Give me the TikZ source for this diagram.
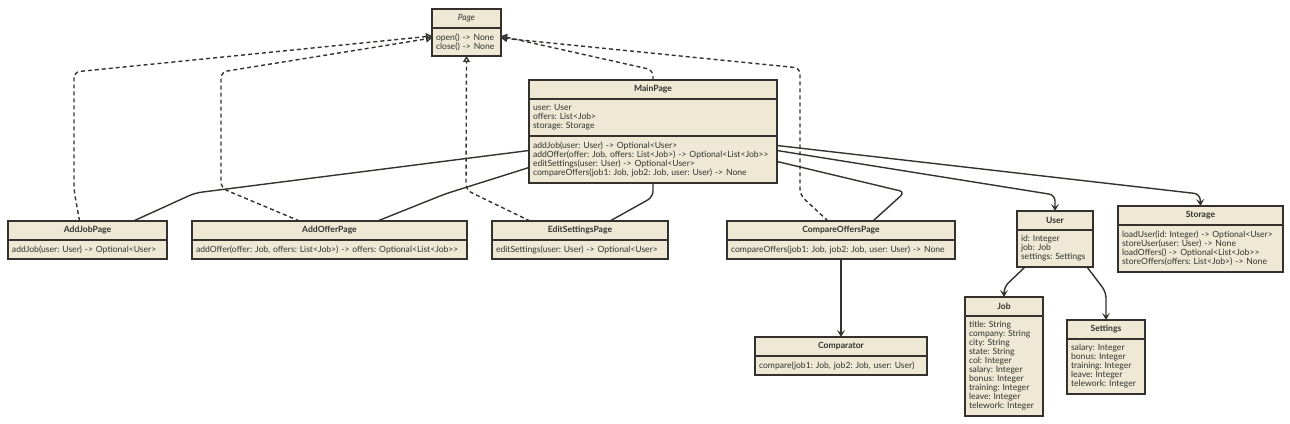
\documentclass[tikz,border=0pt]{standalone}
\usepackage{fontspec}
\setmainfont{Lato}[Ligatures=TeXOff]
\usetikzlibrary{arrows.meta}
\definecolor{paper}{HTML}{EEE8D5}
\definecolor{ink}{HTML}{33322E}
\frenchspacing
\begin{document}
\begin{tikzpicture}[
    x=1pt, y=-1pt,
    font=\fontsize{8.6}{9}\selectfont,
    head/.style={draw=ink, fill=paper, line width=1.4pt, outer sep=0pt, anchor=north west, minimum height=19pt, inner sep=0pt, text=ink, font=\fontsize{8.6}{9}\selectfont\bfseries},
    comp/.style={draw=ink, fill=paper, line width=1.4pt, outer sep=0pt, anchor=north west, inner xsep=4pt, inner ysep=0pt, align=left, text=ink},
    link/.style={draw=ink, line width=1.4pt, rounded corners=6pt},
    assoc/.style={link, -{Stealth[length=7pt, width=8pt, inset=3pt]}},
    real/.style={link, dash pattern=on 4pt off 3pt, -{Triangle[open, length=6pt, width=7pt, line width=1.3pt]}},
  ]
  \useasboundingbox (0,0) rectangle (1290,423);
  % Page (abstract)
  \node[head, minimum width=69pt, font=\fontsize{8.6}{9}\selectfont\itshape] (page) at (432,9) {Page};
  \node[comp, text width=61pt, minimum height=28pt] (page-ops) at (page.south west) {open() -> None\\close() -> None};
  % MainPage
  \node[head, minimum width=248pt] (main) at (529,80) {MainPage};
  \node[comp, text width=240pt, minimum height=37pt] (main-attr) at (main.south west) {user: User\\offers: List<Job>\\storage: Storage};
  \node[comp, text width=240pt, minimum height=47pt] (main-ops) at (main-attr.south west) {addJob(user: User) -> Optional<User>\\addOffer(offer: Job, offers: List<Job>) -> Optional<List<Job>>\\editSettings(user: User) -> Optional<User>\\compareOffers(job1: Job, job2: Job, user: User) -> None};
  % pages
  \node[head, minimum width=159pt] (addjob) at (8,221) {AddJobPage};
  \node[comp, text width=151pt, minimum height=19pt] (addjob-ops) at (addjob.south west) {addJob(user: User) -> Optional<User>};
  \node[head, minimum width=275pt] (addoffer) at (192,221) {AddOfferPage};
  \node[comp, text width=267pt, minimum height=19pt] (addoffer-ops) at (addoffer.south west) {addOffer(offer: Job, offers: List<Job>) -> offers: Optional<List<Job>>};
  \node[head, minimum width=176pt] (edit) at (492,221) {EditSettingsPage};
  \node[comp, text width=168pt, minimum height=19pt] (edit-ops) at (edit.south west) {editSettings(user: User) -> Optional<User>};
  \node[head, minimum width=228pt] (compare) at (727,221) {CompareOffersPage};
  \node[comp, text width=220pt, minimum height=19pt] (compare-ops) at (compare.south west) {\mbox{compareOffers(job1: Job, job2: Job, user: User) -> None}};
  \node[head, minimum width=172pt] (comparator) at (755,337) {Comparator};
  \node[comp, text width=164pt, minimum height=19pt] (comparator-ops) at (comparator.south west) {\mbox{compare(job1: Job, job2: Job, user: User)}};
  % model
  \node[head, minimum width=76pt] (user) at (1017,211) {User};
  \node[comp, text width=68pt, minimum height=37pt] (user-attr) at (user.south west) {id: Integer\\job: Job\\settings: Settings};
  \node[head, minimum width=165pt] (storage) at (1118,206) {Storage};
  \node[comp, text width=157pt, minimum height=47pt] (storage-ops) at (storage.south west) {loadUser(id: Integer) -> Optional<User>\\storeUser(user: User) -> None\\loadOffers() -> Optional<List<Job>>\\storeOffers(offers: List<Job>) -> None};
  \node[head, minimum width=78pt] (job) at (965,297) {Job};
  \node[comp, text width=70pt, minimum height=100pt] (job-attr) at (job.south west) {title: String\\company: String\\city: String\\state: String\\col: Integer\\salary: Integer\\bonus: Integer\\training: Integer\\leave: Integer\\telework: Integer};
  \node[head, minimum width=78pt] (settings) at (1067,320) {Settings};
  \node[comp, text width=70pt, minimum height=55pt] (settings-attr) at (settings.south west) {salary: Integer\\bonus: Integer\\training: Integer\\leave: Integer\\telework: Integer};
  % realizations of Page
  \draw[real] ([xshift=-8pt]addjob.north) -- (74,190) -- (74,72) -- ([yshift=6pt]page-ops.west);
  \draw[real] ([xshift=-30pt]addoffer.north) -- (221,188) -- (221,72) -- ([yshift=4pt]page-ops.west);
  \draw[real] ([xshift=-50pt]edit.north) -- (466,190) -- (page-ops.south);
  \draw[real] (main.north) -- (653,70) -- ([yshift=6pt]page-ops.east);
  \draw[real] ([xshift=-13pt]compare.north) -- (800,195) -- (800,68) -- ([yshift=4pt]page-ops.east);
  % associations
  \draw[link] ([yshift=9pt]main-ops.west) -- (195,193) -- ([xshift=46pt]addjob.north);
  \draw[link] ([yshift=-8pt]main-ops.west) -- (445,194) -- ([xshift=48pt]addoffer.north);
  \draw[link] (main-ops.south) -- (653,197) -- ([xshift=30pt]edit.north);
  \draw[link] ([yshift=-2pt]main-ops.east) -- (905,192) -- ([xshift=32pt]compare.north);
  \draw[assoc] ([yshift=9pt]main-ops.east) -- (1055,195) -- (user.north);
  \draw[assoc] ([yshift=14pt]main-ops.east) -- (1200,194) -- (storage.north);
  \draw[assoc] (compare-ops.south) -- (comparator.north);
  \draw[assoc] ([xshift=-30pt]user-attr.south) -- (1004,287) -- (job.north);
  \draw[assoc] ([xshift=32pt]user-attr.south) -- (1106,292) -- (settings.north);
\end{tikzpicture}
\end{document}
